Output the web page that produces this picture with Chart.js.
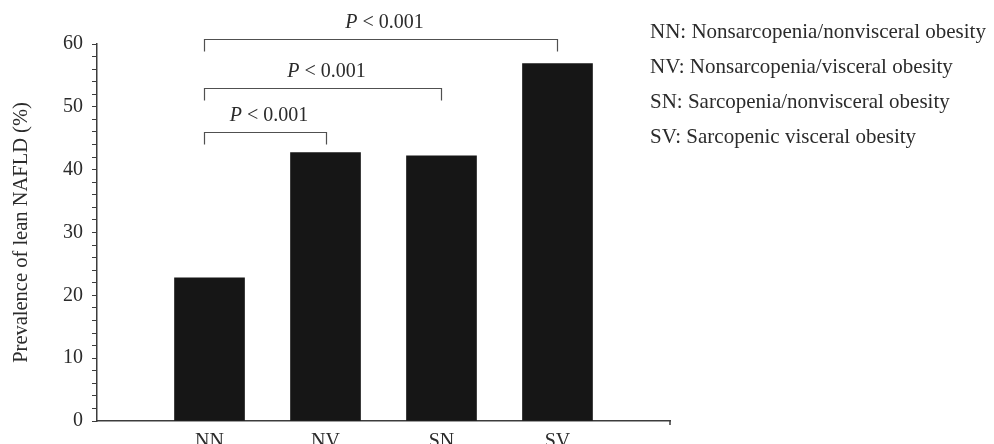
<!DOCTYPE html>
<html>
<head>
<meta charset="utf-8">
<script src="https://cdn.jsdelivr.net/npm/chart.js@4/dist/chart.umd.min.js"></script>
<style>
  html, body { margin: 0; padding: 0; background: #fff; }
  #wrap { width: 994px; height: 444px; }
</style>
</head>
<body>
<div id="wrap"><canvas id="myChart" width="994" height="444"></canvas></div>
<script>
// groups and prevalence of lean NAFLD (%)
var groups = ['NN', 'NV', 'SN', 'SV'];
var prevalence = [22.8, 42.7, 42.2, 56.9];
var yTicks = [0, 10, 20, 30, 40, 50, 60];

// significance brackets: group index pairs, height (in %) and label
var bracketFrom = [0, 0, 0];
var bracketTo = [1, 2, 3];
var bracketLevel = [46.0, 53.0, 60.8];
var bracketText = ['< 0.001', '< 0.001', '< 0.001'];

var legendLines = [
    'NN: Nonsarcopenia/nonvisceral obesity',
    'NV: Nonsarcopenia/visceral obesity',
    'SN: Sarcopenia/nonvisceral obesity',
    'SV: Sarcopenic visceral obesity'
];

var serif = '"Liberation Serif", "DejaVu Serif", serif';
var textColor = '#2b2b2b';
var axisColor = '#3c3c3c';

var points = prevalence.map(function (v, i) { return {x: i + 1, y: v}; });

// draws the brackets with P values and the group key on the right
var extras = {
    id: 'extras',
    afterDraw: function (chart) {
        var c = chart.ctx, xs = chart.scales.x, ys = chart.scales.y;
        c.save();
        c.strokeStyle = '#505050';
        c.lineWidth = 1.2;
        for (var i = 0; i < bracketFrom.length; i++) {
            var x1 = Math.round(xs.getPixelForValue(bracketFrom[i] + 1)) - 6;
            var x2 = Math.round(xs.getPixelForValue(bracketTo[i] + 1));
            var y = Math.round(ys.getPixelForValue(bracketLevel[i])) + 0.5;
            c.beginPath();
            c.moveTo(x1 + 0.5, y + 12);
            c.lineTo(x1 + 0.5, y);
            c.lineTo(x2 + 0.5, y);
            c.lineTo(x2 + 0.5, y + 12);
            c.stroke();

            // label: italic P then the rest
            var mid = (x1 + x2) / 2 + 4;
            c.fillStyle = textColor;
            c.textBaseline = 'alphabetic';
            c.textAlign = 'left';
            c.font = 'italic 20px ' + serif;
            var wP = c.measureText('P').width;
            c.font = '20px ' + serif;
            var wR = c.measureText(' ' + bracketText[i]).width;
            var start = mid - (wP + wR) / 2;
            c.font = 'italic 20px ' + serif;
            c.fillText('P', start, y - 12);
            c.font = '20px ' + serif;
            c.fillText(' ' + bracketText[i], start + wP, y - 12);
        }

        // group key
        c.font = '21px ' + serif;
        c.fillStyle = textColor;
        c.textAlign = 'left';
        for (var j = 0; j < legendLines.length; j++) {
            c.fillText(legendLines[j], 650, 38 + j * 35);
        }

        // small tick at the right end of the x axis
        c.strokeStyle = axisColor;
        c.lineWidth = 1.5;
        c.beginPath();
        c.moveTo(xs.right, ys.bottom);
        c.lineTo(xs.right, ys.bottom + 4);
        c.stroke();
        c.restore();
    }
};

var ctx = document.getElementById('myChart').getContext('2d');
var chart = new Chart(ctx, {
    type: 'bar',
    data: {
        datasets: [{
            label: 'Prevalence',
            data: points,
            backgroundColor: '#161616',
            borderWidth: 0,
            barThickness: 70
        }]
    },
    options: {
        responsive: false,
        animation: false,
        layout: {padding: {top: 44, right: 324, bottom: 0, left: 0}},
        plugins: {legend: {display: false}, tooltip: {enabled: false}},
        scales: {
            x: {
                type: 'linear',
                min: 0.03,
                max: 4.97,
                offset: false,
                grid: {display: false},
                border: {display: true, color: axisColor, width: 1.5},
                afterBuildTicks: function (scale) {
                    scale.ticks = groups.map(function (g, i) { return {value: i + 1}; });
                },
                afterFit: function (scale) { scale.height = 23; },
                ticks: {
                    autoSkip: false,
                    maxRotation: 0,
                    padding: 1,
                    color: textColor,
                    font: {family: serif, size: 20},
                    callback: function (v) { return groups[v - 1] || ''; }
                }
            },
            y: {
                min: 0,
                max: 60,
                afterFit: function (scale) { scale.width = 97; },
                grid: {drawOnChartArea: false, drawTicks: true, tickLength: 5, color: axisColor, lineWidth: 1},
                border: {display: true, color: axisColor, width: 1.5},
                ticks: {
                    stepSize: 2,
                    autoSkip: false,
                    padding: 9,
                    color: textColor,
                    font: {family: serif, size: 20},
                    callback: function (v) { return yTicks.indexOf(v) >= 0 ? v : ''; }
                },
                title: {
                    display: true,
                    text: 'Prevalence of lean NAFLD (%)',
                    color: textColor,
                    font: {family: serif, size: 20.5},
                    padding: {top: 9, bottom: 0}
                }
            }
        }
    },
    plugins: [extras]
});
</script>
</body>
</html>
